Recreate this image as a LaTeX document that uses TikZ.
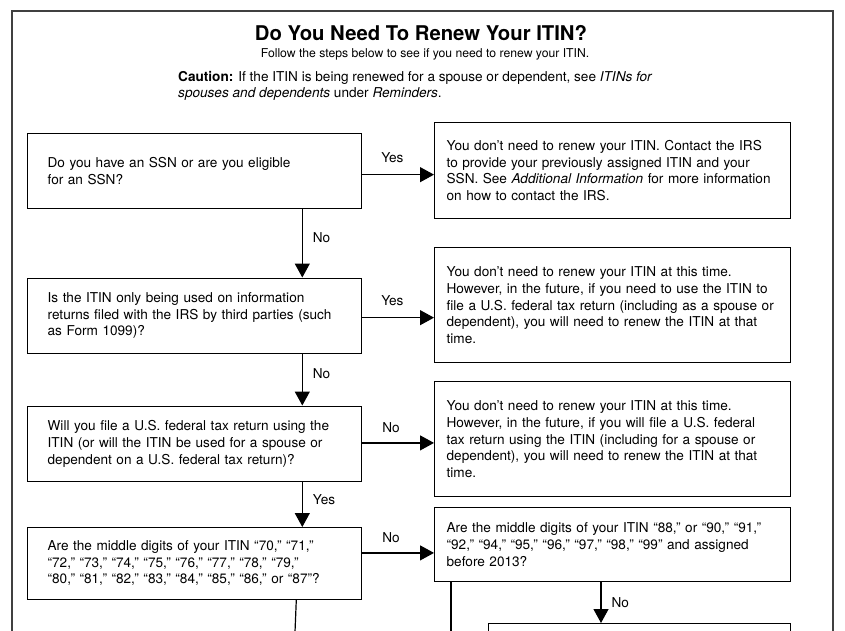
\documentclass[tikz,border=0pt]{standalone}
\usepackage{fontspec}
\setmainfont{TeX Gyre Heros}
\usetikzlibrary{arrows.meta}
\newcommand{\bodyfont}{\fontsize{13.6}{16.6}\selectfont}
\tikzset{
    askbox/.style={draw, line width=1.3pt, anchor=north west, align=left,
        text width=294pt, inner xsep=20pt, inner ysep=0pt, font=\bodyfont},
    tellbox/.style={askbox, text width=332pt, inner xsep=12pt},
    flowarrow/.style={-{Triangle[length=14pt,width=15pt]}, line width=1.2pt},
    flowline/.style={-, line width=1.2pt},
    answer/.style={font=\bodyfont, inner sep=1pt}
}

\begin{document}
\begin{tikzpicture}[x=1pt, y=-1pt]
    \useasboundingbox (0,0) rectangle (845,630);
    \draw[line width=2pt, black!75] (11.5,632) |- (832.5,10.5) -- (832.5,632);

    \node[font=\bfseries\fontsize{20.3}{24}\selectfont] (title) at (421,33) {Do You Need To Renew Your ITIN?};
    \node[font=\fontsize{12.2}{14}\selectfont] (steps) at (425,54) {Follow the steps below to see if you need to renew your ITIN.};
    \node[anchor=west, align=left, inner sep=0pt, font=\bodyfont] (caution) at (178,86)
        {\textbf{Caution:} If the ITIN is being renewed for a spouse or dependent, see \textit{ITINs for}\\
         \textit{spouses and dependents} under \textit{Reminders}.};

    % questions
    \node[askbox, minimum height=75pt] (q1) at (27,133)
        {Do you have an SSN or are you eligible\\ for an SSN?};
    \node[askbox, minimum height=75pt] (q2) at (27,277.5)
        {Is the ITIN only being used on information\\ returns filed with the IRS by third parties (such\\ as Form 1099)?};
    \node[askbox, minimum height=75.5pt] (q3) at (27,405.5)
        {Will you file a U.S. federal tax return using the\\ ITIN (or will the ITIN be used for a spouse or\\ dependent on a U.S. federal tax return)?};
    \node[askbox, minimum height=71.5pt] (q4) at (27,527)
        {Are the middle digits of your ITIN “70,” “71,”\\ “72,” “73,” “74,” “75,” “76,” “77,” “78,” “79,”\\ “80,” “81,” “82,” “83,” “84,” “85,” “86,” or “87”?};

    % answers
    \node[tellbox, minimum height=96pt] (a1) at (434,122)
        {You don’t need to renew your ITIN. Contact the IRS\\ to provide your previously assigned ITIN and your\\ SSN. See \textit{Additional Information} for more information\\ on how to contact the IRS.};
    \node[tellbox, minimum height=115pt] (a2) at (434,247)
        {You don’t need to renew your ITIN at this time.\\ However, in the future, if you need to use the ITIN to\\ file a U.S. federal tax return (including as a spouse or\\ dependent), you will need to renew the ITIN at that\\ time.};
    \node[tellbox, minimum height=115pt] (a3) at (434,381)
        {You don’t need to renew your ITIN at this time.\\ However, in the future, if you will file a U.S. federal\\ tax return using the ITIN (including for a spouse or\\ dependent), you will need to renew the ITIN at that\\ time.};
    \node[tellbox, minimum height=74pt] (a4) at (434,507)
        {Are the middle digits of your ITIN “88,” or “90,” “91,”\\ “92,” “94,” “95,” “96,” “97,” “98,” “99” and assigned\\ before 2013?};
    \node[draw, line width=1.3pt, anchor=north west, minimum width=302pt, minimum height=40pt, inner sep=0pt] (a5) at (488,623) {};

    \coordinate (q4out) at (295,632);
    \coordinate (a4out) at (451,632);

    % yes / no branches
    \path [flowarrow] ([yshift=-3.5pt]q1.east) edge node[answer, above=10pt, pos=0.42] {Yes} ([yshift=-3.5pt]q1.east -| a1.west);
    \path [flowarrow] ([yshift=-2pt]q2.east) edge node[answer, above=10pt, pos=0.42] {Yes} ([yshift=-2pt]q2.east -| a2.west);
    \path [flowarrow] ([yshift=1pt]q3.east) edge node[answer, above=9pt, pos=0.4] {No} ([yshift=1pt]q3.east -| a3.west);
    \path [flowarrow] ([yshift=10.5pt]q4.east) edge node[answer, above=9pt, pos=0.4] {No} ([yshift=10.5pt]q4.east -| a4.west);

    \path [flowarrow] ([xshift=-60pt]q1.south east) edge node[answer, right=9pt, pos=0.42] {No} ([xshift=-60pt]q2.north east);
    \path [flowarrow] ([xshift=-60pt]q2.south east) edge node[answer, right=9pt, pos=0.38] {No} ([xshift=-60pt]q3.north east);
    \path [flowarrow] ([xshift=-60pt]q3.south east) edge node[answer, right=9pt, pos=0.38] {Yes} ([xshift=-60pt]q4.north east);
    \path [flowarrow] ([xshift=167pt]a4.south west) edge node[answer, right=9pt, pos=0.5] {No} ([xshift=167pt]a4.south west |- a5.north);

    \path [flowline] ([xshift=-66pt]q4.south east) edge (q4out);
    \path [flowline] ([xshift=17pt]a4.south west) edge (a4out);
\end{tikzpicture}
\end{document}
